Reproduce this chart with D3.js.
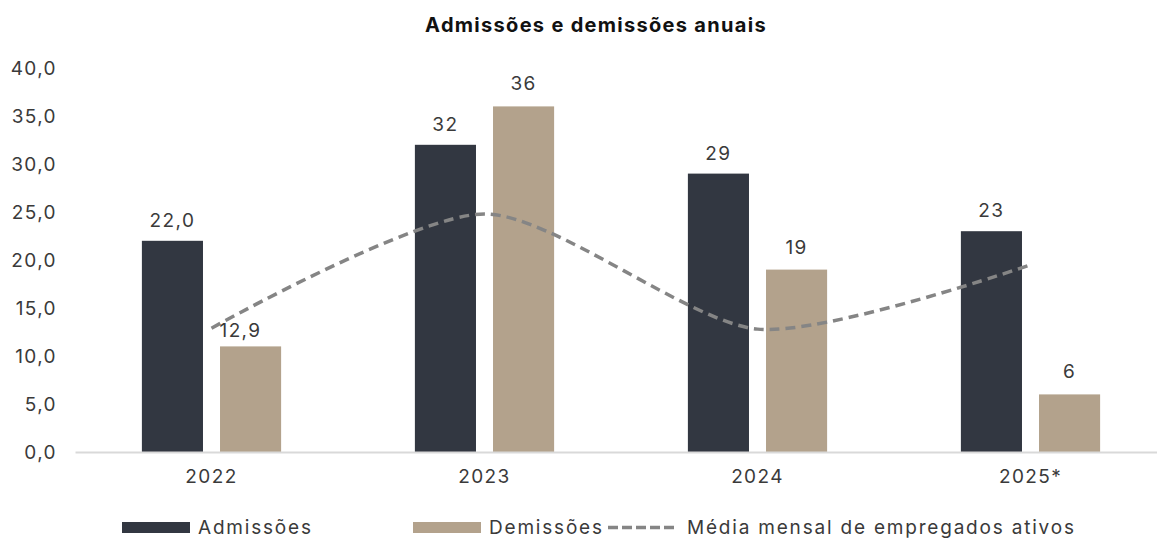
<!DOCTYPE html>
<html>
<head>
<meta charset="utf-8">
<script src="https://cdn.jsdelivr.net/npm/d3@7"></script>
<style>
  body { margin: 0; background: #fff; }
  svg text { font-family: Inter, "Noto Sans", sans-serif; }
</style>
</head>
<body>
<svg id="chart" width="1157" height="541"></svg>
<script>
// data
var years = ["2022", "2023", "2024", "2025*"];
var admissoes = [22, 32, 29, 23];
var demissoes = [11, 36, 19, 6];
var mediaMensal = [12.9, 24.8, 12.8, 19.5];
var admLabels = ["22,0", "32", "29", "23"];
var demLabels = [null, "36", "19", "6"];
var mediaLabels = ["12,9", null, null, null];
var yTicks = [0, 5, 10, 15, 20, 25, 30, 35, 40];
var seriesNames = ["Admissões", "Demissões", "Média mensal de empregados ativos"];

var colAdm = "#323741", colDem = "#b3a28c", colLine = "#858585", textCol = "#3a3a3a";

var svg = d3.select("#chart");

var x = d3.scaleBand().domain(years).range([75, 1167]).paddingInner(0.49).paddingOuter(0.245);
var xs = d3.scaleBand().domain(["adm", "dem"]).range([0, x.bandwidth()]).paddingInner(0.218);
var y = d3.scaleLinear().domain([0, 40]).range([452, 68]);

function label(sel) {
  sel.style("font-size", "19px").style("letter-spacing", "1.4px").attr("fill", textCol);
}

// title
svg.append("text")
  .attr("x", 596).attr("y", 32)
  .attr("text-anchor", "middle")
  .style("font-weight", 700).style("font-size", "20px").style("letter-spacing", "1.3px")
  .attr("fill", "#111")
  .text("Admissões e demissões anuais");

// y axis labels (no line)
var yAxis = d3.axisLeft(y).tickValues(yTicks).tickSize(0).tickPadding(0)
  .tickFormat(function(d) { return d3.format(".1f")(d).replace(".", ","); });
var gy = svg.append("g").attr("transform", "translate(57,0)").call(yAxis);
gy.select(".domain").remove();
gy.selectAll("text").call(label).attr("dy", "0.36em");

// bars
var groups = svg.append("g").selectAll("g")
  .data(years).enter().append("g")
  .attr("transform", function(d) { return "translate(" + x(d) + ",0)"; });

groups.append("rect")
  .attr("x", xs("adm")).attr("width", xs.bandwidth())
  .attr("y", function(d, i) { return y(admissoes[i]); })
  .attr("height", function(d, i) { return y(0) - y(admissoes[i]); })
  .attr("fill", colAdm);

groups.append("rect")
  .attr("x", xs("dem")).attr("width", xs.bandwidth())
  .attr("y", function(d, i) { return y(demissoes[i]); })
  .attr("height", function(d, i) { return y(0) - y(demissoes[i]); })
  .attr("fill", colDem);

// bar labels
groups.append("text")
  .attr("x", xs("adm") + xs.bandwidth() / 2)
  .attr("y", function(d, i) { return y(admissoes[i]) - 14; })
  .attr("text-anchor", "middle")
  .call(label)
  .text(function(d, i) { return admLabels[i]; });

groups.append("text")
  .attr("x", xs("dem") + xs.bandwidth() / 2)
  .attr("y", function(d, i) { return y(demissoes[i]) - 16; })
  .attr("text-anchor", "middle")
  .call(label)
  .text(function(d, i) { return demLabels[i]; });

// x axis
var xAxis = d3.axisBottom(x).tickSize(0).tickPadding(18);
var gx = svg.append("g").attr("transform", "translate(0," + y(0) + ")").call(xAxis);
gx.select(".domain").attr("stroke", "#d9d9d9").attr("stroke-width", 2);
gx.selectAll("text").call(label);

// smoothed line
var cx = function(i) { return x(years[i]) + x.bandwidth() / 2; };
var line = d3.line()
  .x(function(d, i) { return cx(i); })
  .y(function(d) { return y(d); })
  .curve(d3.curveCardinal.tension(0.25));

svg.append("path")
  .datum(mediaMensal)
  .attr("d", line)
  .attr("fill", "none")
  .attr("stroke", colLine)
  .attr("stroke-width", 3.5)
  .attr("stroke-dasharray", "10,6");

svg.append("g").selectAll("text")
  .data(mediaMensal).enter().append("text")
  .attr("x", function(d, i) { return cx(i) + 8; })
  .attr("y", function(d) { return y(d); })
  .attr("dy", "0.45em")
  .call(label)
  .text(function(d, i) { return mediaLabels[i]; });

// legend
var legX = [122, 413, 608];
var leg = svg.append("g").selectAll("g")
  .data(seriesNames).enter().append("g")
  .attr("transform", function(d, i) { return "translate(" + legX[i] + ",527.5)"; });

leg.filter(function(d, i) { return i < 2; }).append("rect")
  .attr("x", 0).attr("y", -5.5).attr("width", 68).attr("height", 11)
  .attr("fill", function(d, i) { return i === 0 ? colAdm : colDem; });

leg.filter(function(d, i) { return i === 2; }).append("line")
  .attr("x1", 0).attr("x2", 70).attr("y1", 0).attr("y2", 0)
  .attr("stroke", colLine).attr("stroke-width", 3.5).attr("stroke-dasharray", "10,4");

leg.append("text")
  .attr("x", function(d, i) { return i === 2 ? 79 : 76; })
  .attr("y", 0).attr("dy", "0.36em")
  .call(label)
  .style("letter-spacing", "1.8px")
  .text(function(d) { return d; });
</script>
</body>
</html>
